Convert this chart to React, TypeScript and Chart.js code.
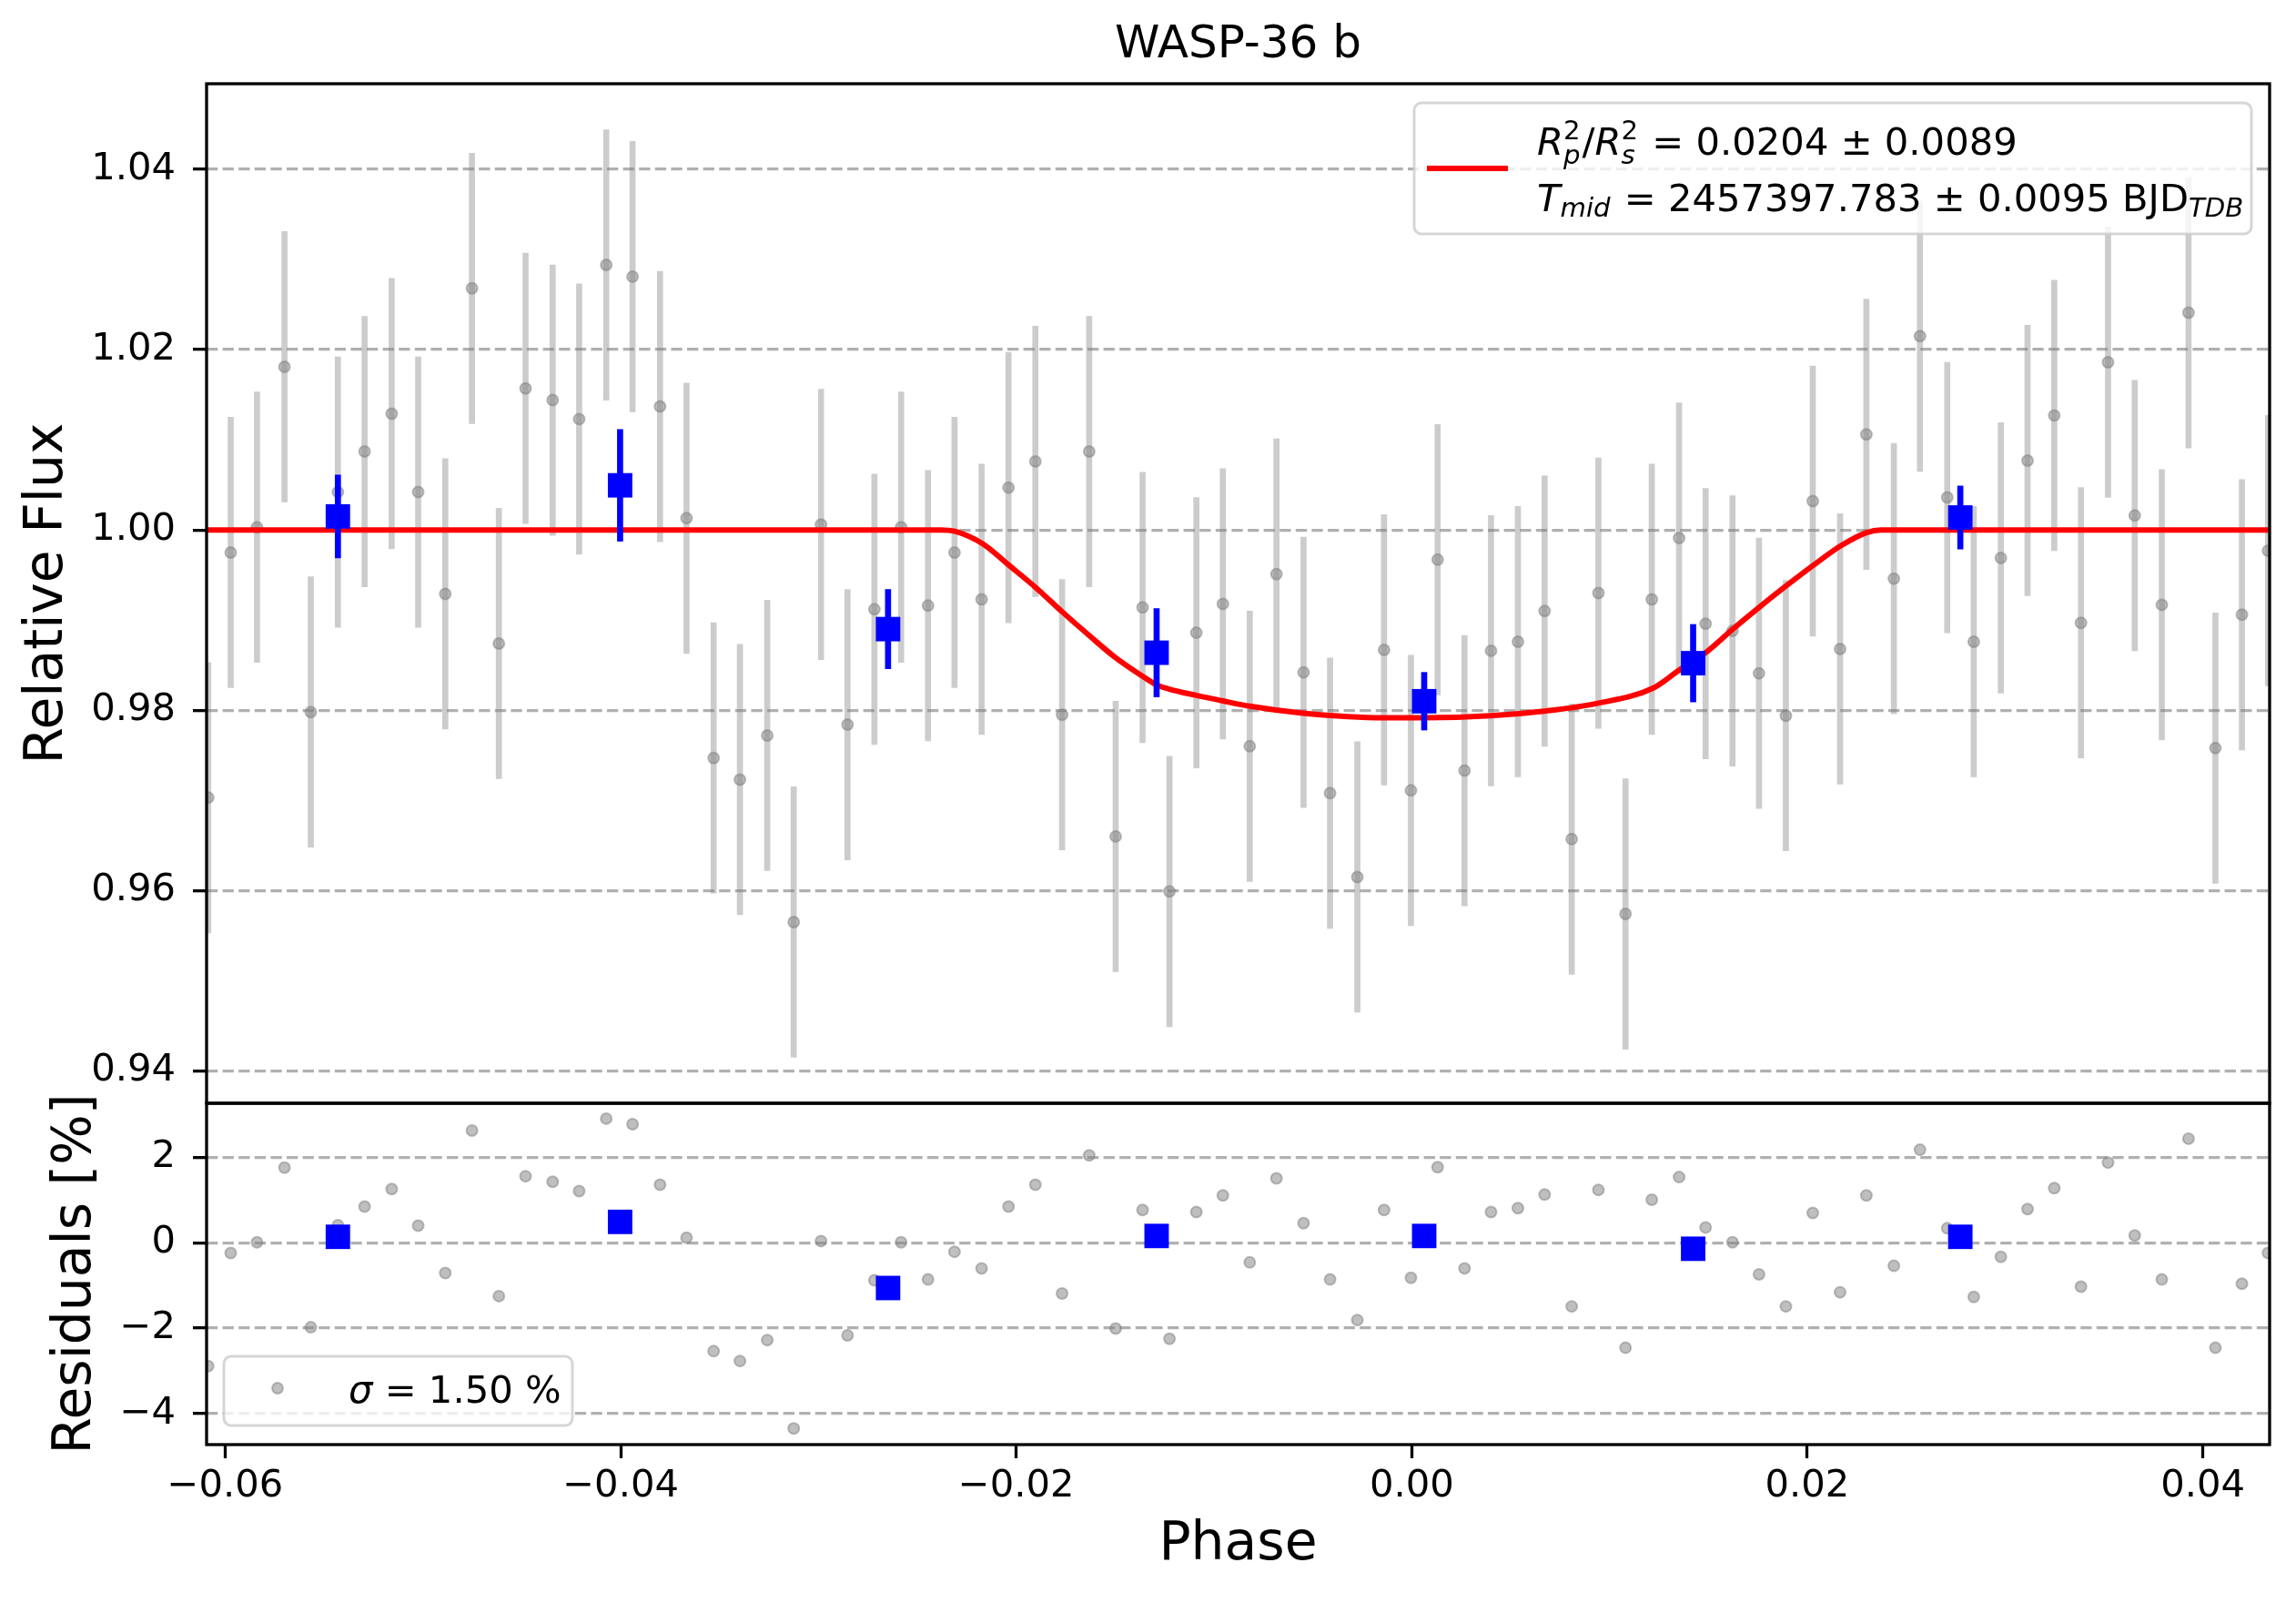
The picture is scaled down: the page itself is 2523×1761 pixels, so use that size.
import { useEffect, useRef } from 'react';
import { Chart, ChartConfiguration, Plugin } from 'chart.js/auto';

const FONT = "'DejaVu Sans', 'Liberation Sans', sans-serif";

// unbinned light curve, phase of each exposure
const phase = [
  -0.06086, -0.05972, -0.05839, -0.057, -0.05567, -0.0543, -0.05295, -0.05158, -0.05024, -0.04887,
  -0.04752, -0.04616, -0.04481, -0.04344, -0.0421, -0.04073, -0.0394, -0.03801, -0.03667, -0.0353,
  -0.03397, -0.03259, -0.03125, -0.02987, -0.02853, -0.02717, -0.02582, -0.02446, -0.02312, -0.02175,
  -0.02039, -0.01903, -0.01768, -0.01631, -0.01497, -0.01361, -0.01225, -0.01089, -0.00955, -0.00819,
  -0.00684, -0.00547, -0.00413, -0.00275, -0.0014, -0.00004, 0.00131, 0.00267, 0.00401, 0.00537,
  0.00672, 0.00809, 0.00944, 0.01081, 0.01214, 0.01352, 0.01486, 0.01622, 0.01756, 0.01892,
  0.02028, 0.02166, 0.02299, 0.02438, 0.0257, 0.02708, 0.02842, 0.02979, 0.03114, 0.03249,
  0.03384, 0.03521, 0.03656, 0.03793, 0.03928, 0.04064, 0.04198, 0.0433,
];

const flux = [
  0.9703, 0.9975, 1.0003, 1.0181, 0.9798, 1.0042, 1.0087, 1.0129, 1.0042, 0.9929,
  1.0268, 0.9874, 1.0157, 1.0144, 1.0123, 1.0294, 1.0281, 1.0137, 1.0013, 0.9747,
  0.9723, 0.9772, 0.9565, 1.0006, 0.9784, 0.9912, 1.0003, 0.9916, 0.9975, 0.9923,
  1.0047, 1.0076, 0.9795, 1.0087, 0.966, 0.9914, 0.9599, 0.9886, 0.9918, 0.976,
  0.9951, 0.9842, 0.9708, 0.9615, 0.9867, 0.9711, 0.9967, 0.9733, 0.9866, 0.9876,
  0.991, 0.9657, 0.993, 0.9574, 0.9923, 0.9991, 0.9896, 0.9888, 0.9841, 0.9794,
  1.0032, 0.9868, 1.0106, 0.9946, 1.0215, 1.0036, 0.9876, 0.9969, 1.0077, 1.0127,
  0.9897, 1.0186, 1.0016, 0.9917, 1.0241, 0.9758, 0.9906, 0.9977,
];

const fluxErr = 0.015;

// residuals in percent
const residual = [
  -2.89, -0.24, 0.01, 1.76, -1.98, 0.41, 0.85, 1.26, 0.4, -0.71,
  2.63, -1.25, 1.56, 1.43, 1.21, 2.91, 2.78, 1.36, 0.12, -2.54,
  -2.77, -2.28, -4.35, 0.04, -2.17, -0.88, 0.01, -0.86, -0.21, -0.6,
  0.85, 1.36, -1.19, 2.05, -2.01, 0.77, -2.25, 0.72, 1.11, -0.46,
  1.51, 0.46, -0.86, -1.81, 0.77, -0.82, 1.77, -0.6, 0.72, 0.81,
  1.13, -1.49, 1.24, -2.46, 1.01, 1.54, 0.36, 0.01, -0.74, -1.49,
  0.7, -1.16, 1.11, -0.54, 2.18, 0.34, -1.27, -0.33, 0.79, 1.28,
  -1.03, 1.88, 0.17, -0.86, 2.44, -2.46, -0.96, -0.24,
];

// binned points
const binPhase = [-0.0543, -0.04003, -0.02648, -0.0129, 0.00063, 0.01423, 0.02774];
const binFlux = [1.0015, 1.00495, 0.989, 0.98638, 0.981, 0.98522, 1.00138];
const binErr = [0.0046, 0.0062, 0.0044, 0.0049, 0.0032, 0.0043, 0.0035];
const binResidual = [0.14, 0.49, -1.06, 0.16, 0.16, -0.14, 0.14];

// transit model
const modelPhase = [
  -0.0609, -0.0238, -0.0231, -0.0217, -0.0204, -0.019, -0.0177, -0.0163, -0.015, -0.0136,
  -0.0129, -0.0123, -0.0109, -0.0096, -0.0082, -0.0055, -0.0014, 0.0006, 0.004, 0.0067,
  0.0094, 0.0122, 0.0135, 0.0149, 0.0162, 0.0176, 0.0189, 0.0203, 0.0217, 0.023,
  0.0237, 0.0434,
];
const modelFlux = [
  1.0, 1.0, 0.99985, 0.99847, 0.99614, 0.99359, 0.99097, 0.98827, 0.98587, 0.98376,
  0.98281, 0.98237, 0.98165, 0.98106, 0.98045, 0.97968, 0.97917, 0.97917, 0.97939, 0.9799,
  0.98077, 0.98245, 0.98441, 0.98645, 0.98893, 0.99148, 0.99374, 0.99607, 0.99825, 0.99971,
  1.0, 1.0,
];

const fluxTicks = [0.94, 0.96, 0.98, 1.0, 1.02, 1.04];
const residTicks = [-4, -2, 0, 2];
const phaseTicks = [-0.06, -0.04, -0.02, 0.0, 0.02, 0.04];

const GRAY_BAR = 'rgba(128,128,128,0.4)';
const GRAY_PT = 'rgba(128,128,128,0.5)';
const TICK_PX = 41.7;
const LABEL_PX = 58.3;
const LINE_W = 3.3;

const minus = (s: string) => s.replace('-', '\u2212');

type Piece = { text: string; italic?: boolean; scale?: number; shift?: number; keep?: boolean; pad?: number };

const legendLine1: Piece[] = [
  { text: 'R', italic: true },
  { text: '2', scale: 0.7, shift: -17, keep: true },
  { text: 'p', italic: true, scale: 0.7, shift: 10, pad: 2 },
  { text: '/' },
  { text: 'R', italic: true },
  { text: '2', scale: 0.7, shift: -17, keep: true },
  { text: 's', italic: true, scale: 0.7, shift: 10, pad: 2 },
  { text: ' = 0.0204 \u00b1 0.0089' },
];
const legendLine2: Piece[] = [
  { text: 'T', italic: true },
  { text: 'mid', italic: true, scale: 0.7, shift: 6, pad: 2 },
  { text: ' = 2457397.783 \u00b1 0.0095 BJD' },
  { text: 'TDB', italic: true, scale: 0.7, shift: 6 },
];
const sigmaLine: Piece[] = [{ text: '\u03c3', italic: true }, { text: ' = 1.50 %' }];

function drawPieces(ctx: CanvasRenderingContext2D, x: number, y: number, pieces: Piece[], size: number) {
  let cx = x;
  let held = 0;
  for (const p of pieces) {
    const s = size * (p.scale ?? 1);
    ctx.font = `${p.italic ? 'italic ' : ''}${s}px ${FONT}`;
    ctx.fillText(p.text, cx, y + (p.shift ?? 0));
    const w = ctx.measureText(p.text).width;
    if (p.keep) {
      held = Math.max(held, w);
      continue;
    }
    cx += Math.max(w, held) + (p.pad ?? 0);
    held = 0;
  }
}

function legendBox(ctx: CanvasRenderingContext2D, x: number, y: number, w: number, h: number) {
  ctx.beginPath();
  ctx.roundRect(x, y, w, h, 8);
  ctx.fillStyle = 'rgba(255,255,255,0.8)';
  ctx.fill();
  ctx.lineWidth = 3;
  ctx.strokeStyle = 'rgba(204,204,204,0.8)';
  ctx.stroke();
}

// black frame round each panel, like matplotlib spines
const framePlugin: Plugin = {
  id: 'panelFrame',
  afterDatasetsDraw(chart) {
    const { ctx, chartArea } = chart;
    ctx.save();
    ctx.strokeStyle = '#000';
    ctx.lineWidth = LINE_W;
    for (const id of ['y', 'y2']) {
      const s = chart.scales[id];
      ctx.strokeRect(chartArea.left, s.top, chartArea.right - chartArea.left, s.bottom - s.top);
    }
    ctx.restore();
  },
};

const legendPlugin: Plugin = {
  id: 'panelLegends',
  afterDraw(chart) {
    const { ctx, chartArea } = chart;
    const top = chart.scales.y;
    const res = chart.scales.y2;
    ctx.save();
    ctx.textAlign = 'left';
    ctx.textBaseline = 'alphabetic';

    const w1 = 920;
    const h1 = 144;
    const x1 = chartArea.right - 20 - w1;
    const t1 = top.top + 21;
    legendBox(ctx, x1, t1, w1, h1);
    ctx.beginPath();
    ctx.moveTo(x1 + 14, t1 + h1 / 2);
    ctx.lineTo(x1 + 103, t1 + h1 / 2);
    ctx.strokeStyle = '#ff0000';
    ctx.lineWidth = 6;
    ctx.stroke();
    ctx.fillStyle = '#000';
    drawPieces(ctx, x1 + 135, t1 + 57, legendLine1, TICK_PX);
    drawPieces(ctx, x1 + 135, t1 + 119, legendLine2, TICK_PX);

    const w2 = 383;
    const h2 = 76;
    const x2 = chartArea.left + 19;
    const t2 = res.bottom - 21 - h2;
    legendBox(ctx, x2, t2, w2, h2);
    ctx.beginPath();
    ctx.arc(x2 + 59, t2 + 35, 6, 0, Math.PI * 2);
    ctx.fillStyle = GRAY_PT;
    ctx.fill();
    ctx.lineWidth = 2;
    ctx.strokeStyle = GRAY_PT;
    ctx.stroke();
    ctx.fillStyle = '#000';
    drawPieces(ctx, x2 + 137, t2 + 51, sigmaLine, TICK_PX);
    ctx.restore();
  },
};

const tickFont = { family: FONT, size: TICK_PX };
const labelFont = { family: FONT, size: LABEL_PX };

export default function App() {
  const canvasRef = useRef<HTMLCanvasElement>(null);
  const chartRef = useRef<Chart | null>(null);

  useEffect(() => {
    document.body.style.margin = '0';
    if (!canvasRef.current) return;
    if (chartRef.current) chartRef.current.destroy();

    const config: ChartConfiguration = {
      type: 'scatter',
      data: {
        datasets: [
          {
            type: 'bar',
            data: phase.map((p, i) => ({ x: p, y: [flux[i] - fluxErr, flux[i] + fluxErr] })),
            backgroundColor: GRAY_BAR,
            borderWidth: 0,
            barThickness: 6,
            grouped: false,
            yAxisID: 'y',
            order: 5,
          } as any,
          {
            type: 'scatter',
            data: phase.map((p, i) => ({ x: p, y: flux[i] })),
            pointRadius: 6,
            pointBorderWidth: 2,
            pointBackgroundColor: GRAY_PT,
            pointBorderColor: GRAY_PT,
            clip: 0,
            yAxisID: 'y',
            order: 4,
          },
          {
            type: 'line',
            data: modelPhase.map((p, i) => ({ x: p, y: modelFlux[i] })),
            borderColor: '#ff0000',
            borderWidth: 6,
            pointRadius: 0,
            cubicInterpolationMode: 'monotone',
            yAxisID: 'y',
            order: 3,
          },
          {
            type: 'bar',
            data: binPhase.map((p, i) => ({ x: p, y: [binFlux[i] - binErr[i], binFlux[i] + binErr[i]] })),
            backgroundColor: '#0000ff',
            borderWidth: 0,
            barThickness: 6,
            grouped: false,
            yAxisID: 'y',
            order: 2,
          } as any,
          {
            type: 'scatter',
            data: binPhase.map((p, i) => ({ x: p, y: binFlux[i] })),
            pointStyle: 'rect',
            pointRadius: 19,
            pointBorderWidth: 0,
            pointBackgroundColor: '#0000ff',
            yAxisID: 'y',
            order: 1,
          },
          {
            type: 'scatter',
            data: phase.map((p, i) => ({ x: p, y: residual[i] })),
            pointRadius: 6,
            pointBorderWidth: 2,
            pointBackgroundColor: GRAY_PT,
            pointBorderColor: GRAY_PT,
            clip: 0,
            yAxisID: 'y2',
            order: 4,
          },
          {
            type: 'scatter',
            data: binPhase.map((p, i) => ({ x: p, y: binResidual[i] })),
            pointStyle: 'rect',
            pointRadius: 19,
            pointBorderWidth: 0,
            pointBackgroundColor: '#0000ff',
            yAxisID: 'y2',
            order: 1,
          },
        ],
      },
      options: {
        responsive: true,
        maintainAspectRatio: false,
        animation: false,
        events: [],
        layout: { padding: { left: 0, right: 29, top: 0, bottom: 0 } },
        plugins: {
          legend: { display: false },
          tooltip: { enabled: false },
          title: {
            display: true,
            text: 'WASP-36 b',
            fullSize: false,
            color: '#000',
            font: { family: FONT, size: 50, weight: 'normal' },
            padding: { top: 20, bottom: 12 },
          },
        },
        scales: {
          x: {
            type: 'linear',
            position: 'bottom',
            min: -0.06094,
            max: 0.04338,
            offset: false,
            afterBuildTicks: (s: any) => {
              s.ticks = phaseTicks.map((v) => ({ value: v }));
            },
            afterFit: (s: any) => {
              s.height = 174;
              s.paddingLeft = 0;
              s.paddingRight = 0;
            },
            ticks: {
              callback: (v: any) => minus(Number(v).toFixed(2)),
              font: tickFont,
              color: '#000',
              padding: 6,
              maxRotation: 0,
              autoSkip: false,
            },
            grid: {
              offset: false,
              drawOnChartArea: false,
              drawTicks: true,
              tickLength: 15,
              tickColor: '#000',
              tickWidth: LINE_W,
            },
            border: { display: false },
            title: { display: true, text: 'Phase', color: '#000', font: labelFont, padding: { top: 0, bottom: 28 } },
          },
          y: {
            type: 'linear',
            position: 'left',
            stack: 'panels',
            stackWeight: 1120,
            weight: 2,
            min: 0.9364,
            max: 1.0495,
            afterBuildTicks: (s: any) => {
              s.ticks = fluxTicks.map((v) => ({ value: v }));
            },
            afterFit: (s: any) => {
              s.width = 227;
              s.paddingTop = 0;
              s.paddingBottom = 0;
            },
            ticks: {
              callback: (v: any) => Number(v).toFixed(2),
              font: tickFont,
              color: '#000',
              padding: 19,
            },
            grid: { offset: false, color: '#b0b0b0', lineWidth: LINE_W, tickLength: 15, tickColor: '#000', tickWidth: LINE_W },
            border: { display: false, dash: [12.3, 5.3] },
            title: { display: true, text: 'Relative Flux', color: '#000', font: labelFont, padding: { top: 18 } },
          },
          y2: {
            type: 'linear',
            position: 'left',
            stack: 'panels',
            stackWeight: 375,
            weight: 1,
            min: -4.73,
            max: 3.27,
            afterBuildTicks: (s: any) => {
              s.ticks = residTicks.map((v) => ({ value: v }));
            },
            afterFit: (s: any) => {
              s.width = 227;
              s.paddingTop = 0;
              s.paddingBottom = 0;
            },
            ticks: {
              callback: (v: any) => minus(Number(v).toFixed(0)),
              font: tickFont,
              color: '#000',
              padding: 19,
            },
            grid: { offset: false, color: '#b0b0b0', lineWidth: LINE_W, tickLength: 15, tickColor: '#000', tickWidth: LINE_W },
            border: { display: false, dash: [12.3, 5.3] },
            title: { display: true, text: 'Residuals [%]', color: '#000', font: labelFont, padding: { top: 49 } },
          },
        },
      } as any,
      plugins: [framePlugin, legendPlugin],
    };

    chartRef.current = new Chart(canvasRef.current, config);

    return () => {
      if (chartRef.current) {
        chartRef.current.destroy();
        chartRef.current = null;
      }
    };
  }, []);

  return (
    <div style={{ width: 2523, height: 1761, position: 'relative', background: '#fff' }}>
      <canvas ref={canvasRef} />
    </div>
  );
}
